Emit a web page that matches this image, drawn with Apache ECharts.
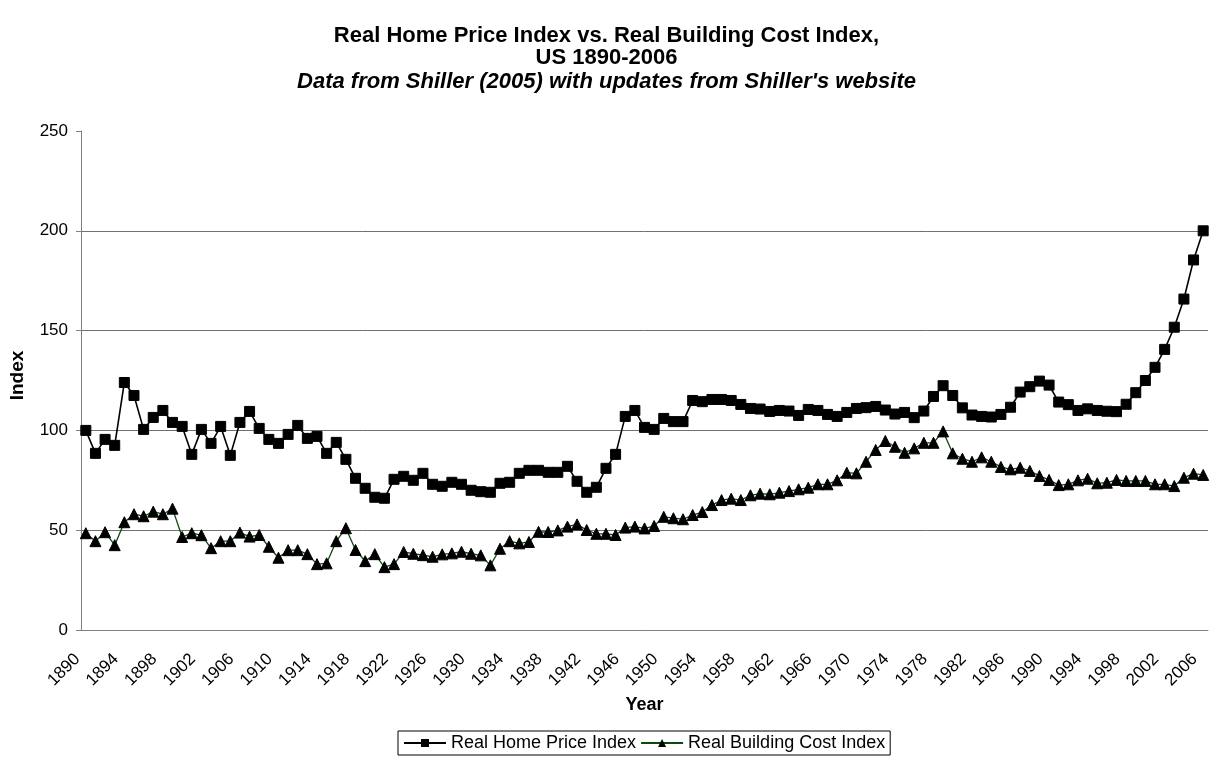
<!DOCTYPE html>
<html>
<head>
<meta charset="utf-8">
<script src="https://cdn.jsdelivr.net/npm/echarts@6/dist/echarts.min.js"></script>
<style>html,body{margin:0;padding:0;background:#fff;}#c{width:1213px;height:757px;}</style>
</head>
<body>
<div id="c"></div>
<script>
const years = [];
for (let y = 1890; y <= 2006; y++) years.push(String(y));

const homePrice = [
100,88.5,95.5,92.5,124,117.5,100.5,106.5,110,104,
102,88,100.5,93.5,102,87.5,104,109.5,101,95.5,
93.5,98,102.5,96,97,88.5,94,85.5,76,71,
66.5,66,75.5,77,75,78.5,73,72,74,73,
70,69.3,69,73.5,74,78.5,80,80,79,79,
82,74.5,69,71.5,81,88,107,110,101.5,100.5,
106,104.4,104.4,115,114.4,115.5,115.5,115,113,111,
110.7,109.5,110,109.7,107.5,110.5,110,108,107,109,
111,111.4,112,110.2,108.2,109,106.4,109.7,117,122.4,
117.5,111.3,107.7,107,106.7,108,111.6,119.2,121.9,124.7,
122.7,114.2,112.9,110,110.8,110,109.6,109.4,113.1,118.9,
125,131.6,140.6,151.7,165.8,185.4,200
];

const buildingCost = [
48.5,44.5,49,42.5,54,58,57,59.3,58,60.8,
46.6,48.5,47.5,41,44.5,44.5,48.8,46.8,47.6,41.7,
36.2,40,40,38,33,33.4,44.5,51,40.1,34.5,
38,31.5,33,39.1,38.2,37.5,36.7,37.9,38.4,39.2,
38.2,37.4,32.4,40.7,44.5,43.4,44.1,49.2,49.1,49.9,
51.8,52.9,50.1,48.2,48.2,47.6,51.3,51.8,50.9,52.1,
56.7,56,55.5,57.6,59.1,62.6,65.1,65.8,65.1,67.5,
68.3,68,68.8,69.6,70.5,71.3,73,73,75,78.8,
78.5,84.3,90.2,94.7,91.8,88.8,91,93.8,93.8,99.5,
88.5,85.8,84.3,86.5,84.3,81.7,80.5,81.3,79.7,77.2,
75.2,72.6,73,75,75.8,73.5,73.8,75.2,74.7,74.7,
74.7,73,73,72.1,76.3,78.3,77.7
];

const yTicks = { min: 0, max: 250, interval: 50 };

const chart = echarts.init(document.getElementById('c'), null, { renderer: 'canvas' });
const F = 'Arial, "Liberation Sans", Helvetica, sans-serif';
chart.setOption({
  animation: false,
  backgroundColor: '#ffffff',
  title: {
    text: 'Real Home Price Index vs. Real Building Cost Index,\nUS 1890-2006',
    subtext: "Data from Shiller (2005) with updates from Shiller's website",
    left: 'center',
    top: 20,
    itemGap: 1,
    textStyle: { fontFamily: F, fontSize: 22, fontWeight: 'bold', color: '#000', lineHeight: 22 },
    subtextStyle: { fontFamily: F, fontSize: 22, fontWeight: 'bold', fontStyle: 'italic', color: '#000', lineHeight: 24 }
  },
  legend: {
    bottom: 2,
    left: 398,
    borderColor: '#000',
    borderWidth: 1,
    padding: [3, 5, 3, 5],
    itemGap: 4,
    itemWidth: 42,
    itemHeight: 10,
    textStyle: { fontFamily: F, fontSize: 18, color: '#000' },
    data: ['Real Home Price Index', 'Real Building Cost Index']
  },
  grid: { left: 81, right: 5, top: 131, bottom: 127 },
  xAxis: {
    type: 'category',
    data: years,
    boundaryGap: true,
    name: 'Year',
    nameLocation: 'middle',
    nameGap: 62,
    nameTextStyle: { fontFamily: F, fontSize: 18, fontWeight: 'bold', color: '#000' },
    axisLine: { lineStyle: { color: '#808080', width: 1 } },
    axisTick: { interval: 0, length: 5, lineStyle: { color: '#808080' } },
    axisLabel: { interval: 3, rotate: 45, fontFamily: F, fontSize: 17, color: '#000', margin: 18, padding: [0, 12, 0, 0] },
    splitLine: { show: false }
  },
  yAxis: {
    type: 'value',
    min: yTicks.min,
    max: yTicks.max,
    interval: yTicks.interval,
    name: 'Index',
    nameLocation: 'middle',
    nameRotate: 90,
    nameGap: 54,
    nameTextStyle: { fontFamily: F, fontSize: 19, fontWeight: 'bold', color: '#000', padding: [0, 0, 0, 10] },
    axisLine: { show: true, lineStyle: { color: '#808080', width: 1 } },
    axisTick: { show: true, length: 5, lineStyle: { color: '#808080' } },
    axisLabel: { fontFamily: F, fontSize: 17, color: '#000', margin: 13 },
    splitLine: { show: true, showMaxLine: false, lineStyle: { color: '#707070', width: 1 } }
  },
  series: [
    {
      name: 'Real Home Price Index',
      type: 'line',
      data: homePrice,
      symbol: 'rect',
      symbolSize: 10,
      showAllSymbol: true,
      lineStyle: { color: '#000', width: 1.6 },
      itemStyle: { color: '#000', borderColor: '#000' }
    },
    {
      name: 'Real Building Cost Index',
      type: 'line',
      data: buildingCost,
      symbol: 'triangle',
      symbolSize: 11,
      showAllSymbol: true,
      lineStyle: { color: '#0b4a0b', width: 1.3 },
      itemStyle: { color: '#000', borderColor: '#000' }
    }
  ]
});
</script>
</body>
</html>
